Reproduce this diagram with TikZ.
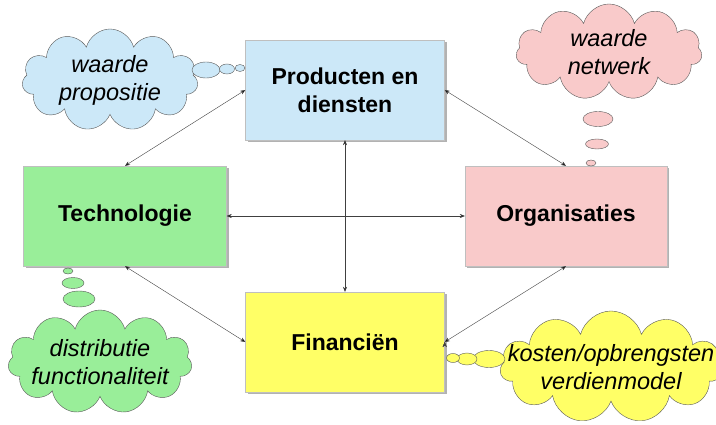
\documentclass[tikz,border=0pt]{standalone}
\usepackage{fontspec}
\setmainfont{Liberation Sans}
\usetikzlibrary{shapes.symbols,shapes.geometric,shadows,arrows.meta}
\definecolor{lightblue}{HTML}{CCE8F8}
\definecolor{lightgreen}{HTML}{99EE99}
\definecolor{lightpink}{HTML}{F9CACA}
\definecolor{lightyellow}{HTML}{FFFF66}
\begin{document}
\begin{tikzpicture}[x=1pt, y=-1pt, <->, >={Stealth[length=5pt,width=4pt]},
  main node/.style={rectangle, draw=gray!50, minimum width=199pt, minimum height=100pt, align=center,
    font=\bfseries\fontsize{23}{28}\selectfont, drop shadow={shadow xshift=2pt, shadow yshift=-2pt, fill=gray!60, opacity=1}},
  cloud node/.style={cloud, cloud puffs=11, cloud ignores aspect, draw=gray!70!black, inner sep=-40pt, align=center,
    font=\itshape\fontsize{23.5}{28}\selectfont},
  bubble/.style={ellipse, draw=gray!70!black, inner sep=0pt}]
            \tikzstyle{every node}=[font=\small]
            \useasboundingbox[fill=white] (0,0) rectangle (716,425);

              % boxes
              \node[main node, fill=lightblue] (1) at (345,90) {Producten en\\diensten};
              \node[main node, fill=lightgreen, minimum width=203pt] (2) at (125,216) {Technologie};
              \node[main node, fill=lightpink, minimum width=202pt] (3) at (566,216) {Organisaties};
              \node[main node, fill=lightyellow] (4) at (345,342) {Financiën};

              % clouds
              \node[cloud node, fill=lightblue, minimum width=176pt, minimum height=102pt] (5) at (110,80) {waarde\\propositie};
              \node[cloud node, fill=lightpink, minimum width=186pt, minimum height=96pt] (6) at (609,52) {waarde\\netwerk};
              \node[cloud node, fill=lightgreen, minimum width=184pt, minimum height=104pt] (7) at (100,362) {distributie\\functionaliteit};
              \node[cloud node, fill=lightyellow, minimum width=222pt, minimum height=112pt] (8) at (611,367) {kosten/opbrengsten\\verdienmodel};

              % bubbles
              \node[bubble, fill=lightblue, minimum width=28pt, minimum height=16pt] (5a) at (206,70) {};
              \node[bubble, fill=lightblue, minimum width=15pt, minimum height=10pt] (5b) at (227,69) {};
              \node[bubble, fill=lightblue, minimum width=10pt, minimum height=7pt] (5c) at (240,68) {};
              \node[bubble, fill=lightpink, minimum width=30pt, minimum height=15pt] (6a) at (598,119) {};
              \node[bubble, fill=lightpink, minimum width=23pt, minimum height=10pt] (6b) at (597,144) {};
              \node[bubble, fill=lightpink, minimum width=10pt, minimum height=6pt] (6c) at (591,163) {};
              \node[bubble, fill=lightgreen, minimum width=32pt, minimum height=16pt] (7a) at (79,299) {};
              \node[bubble, fill=lightgreen, minimum width=22pt, minimum height=11pt] (7b) at (73,283) {};
              \node[bubble, fill=lightgreen, minimum width=10pt, minimum height=6pt] (7c) at (68,271) {};
              \node[bubble, fill=lightyellow, minimum width=32pt, minimum height=17pt] (8a) at (489,359) {};
              \node[bubble, fill=lightyellow, minimum width=20pt, minimum height=12pt] (8b) at (467,359) {};
              \node[bubble, fill=lightyellow, minimum width=13pt, minimum height=9pt] (8c) at (453,358) {};

              \path[draw=black!75, thin]
                (2) edge (3)
                (1) edge (4)
                (1.west) edge (2.north)
                (1.east) edge (3.north)
                (4.west) edge (2.south)
                (4.east) edge (3.south);

            \end{tikzpicture}
\end{document}
